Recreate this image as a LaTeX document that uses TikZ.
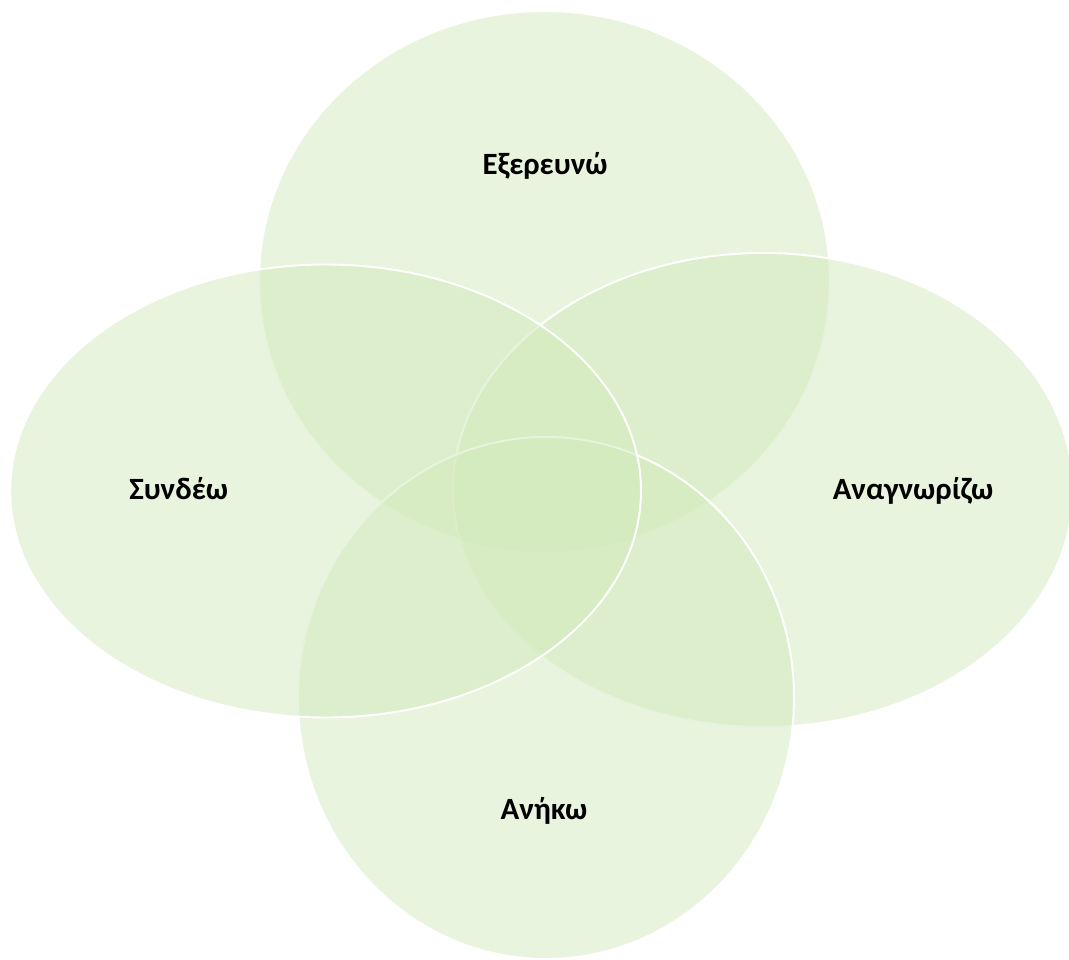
\documentclass[tikz,border=0pt]{standalone}
\usepackage{fontspec}
\setmainfont{Carlito}
\usetikzlibrary{calc}

\definecolor{venngreen}{RGB}{209,233,187}

\tikzset{
    venn/.style={fill=venngreen,fill opacity=0.5,draw=white,line width=1.1pt},
    vennlabel/.style={anchor=base,inner sep=0pt,font=\fontsize{17.6}{21}\selectfont\bfseries}
}

\begin{document}
\begin{tikzpicture}[x=0.02cm,y=-0.02cm]
        \useasboundingbox (0,0) rectangle (1069,960);

        \coordinate (Ctop) at (544.5,281);
        \coordinate (Cright) at (763,490);
        \coordinate (Cbottom) at (546,698);
        \coordinate (Cleft) at (325.6,491);

        \draw[venn] (Ctop) ellipse [x radius=285.5,y radius=270];
        \draw[venn] (Cright) ellipse [x radius=310,y radius=237];
        \draw[venn] (Cbottom) ellipse [x radius=248,y radius=261];
        \draw[venn] (Cleft) ellipse [x radius=315.4,y radius=226.5];

        \node[vennlabel] (explore) at (545,174) {Εξερευνώ};
        \node[vennlabel] (connect) at (178.7,499) {Συνδέω};
        \node[vennlabel] (recognise) at (913,499.3) {Αναγνωρίζω};
        \node[vennlabel] (belong) at (544,819.3) {Ανήκω};
    \end{tikzpicture}
\end{document}
